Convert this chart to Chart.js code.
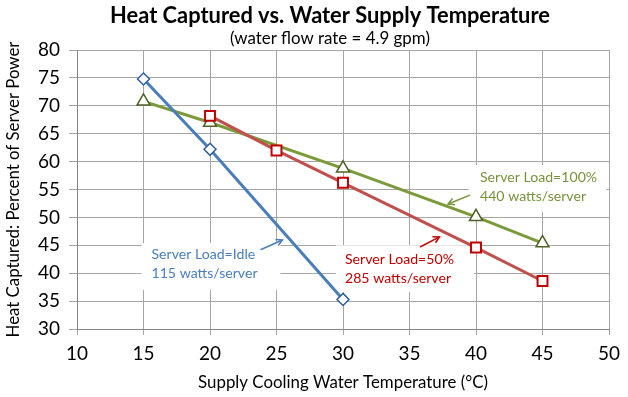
<!DOCTYPE html>
<html><head><meta charset="utf-8">
<script src="https://cdn.jsdelivr.net/npm/chart.js@4.4.0/dist/chart.umd.min.js"></script>
<style>html,body{margin:0;padding:0;background:#fff}#wrap{width:628px;height:397px}</style>
</head><body><div id="wrap"><canvas id="c" width="628" height="397"></canvas></div>
<script>
const idleX = [15, 20, 30];
const idleY = [74.8, 62.2, 35.3];
const halfX = [20, 25, 30, 40, 45];
const halfY = [68.2, 62.0, 56.2, 44.6, 38.6];
const fullX = [15, 20, 30, 40, 45];
const fullY = [70.8, 67.0, 58.8, 50.1, 45.4];
const xTicks = [10, 15, 20, 25, 30, 35, 40, 45, 50];
const yTicks = [30, 35, 40, 45, 50, 55, 60, 65, 70, 75, 80];
const titleText = 'Heat Captured vs. Water Supply Temperature';
const subtitleText = '(water flow rate = 4.9 gpm)';
const xTitleText = 'Supply Cooling Water Temperature (°C)';
const yTitleText = 'Heat Captured: Percent of Server Power';

const FONT = 'Lato, "Open Sans", sans-serif';
const pts = (xs, ys) => xs.map((x, i) => ({x, y: ys[i]}));

// fit font sizes to the widths measured in the reference
const mctx = document.createElement('canvas').getContext('2d');
function fit(text, weight, target) {
  mctx.font = weight + ' 100px ' + FONT;
  return 100 * target / mctx.measureText(text).width;
}
const titleSize = fit(titleText, 'bold', 440);
const subSize = fit(subtitleText, 'normal', 200);
const xTitleSize = fit(xTitleText, 'normal', 290);
const yTitleSize = fit(yTitleText, 'normal', 296);
const tickSize = Math.min(19, fit('80', 'normal', 22));
const annoSize = fit('Server Load=50%', 'normal', 109);

const annotations = [
  {color:'#4A7EBB', box:[14.85,45.4,25.3,37.0], tx:15.6, ty:[43.3,39.9],
   lines:['Server Load=Idle','115 watts/server'], arrow:[23.8,44.2,25.45,45.95]},
  {color:'#C00000', box:[29.45,45.0,39.85,36.6], tx:30.15, ty:[42.4,39.0],
   lines:['Server Load=50%','285 watts/server'], arrow:[35.8,44.7,37.25,46.5]},
  {color:'#77933C', box:[39.45,59.4,49.8,51.0], tx:40.3, ty:[57.1,53.7],
   lines:['Server Load=100%','440 watts/server'], arrow:[39.55,54.0,37.9,52.4]}
];

const annoPlugin = {
  id: 'anno',
  beforeDatasetsDraw(chart) {
    const {ctx, scales:{x, y}} = chart;
    ctx.save();
    ctx.fillStyle = '#fff';
    annotations.forEach(a => {
      const x0 = x.getPixelForValue(a.box[0]), y0 = y.getPixelForValue(a.box[1]);
      const x1 = x.getPixelForValue(a.box[2]), y1 = y.getPixelForValue(a.box[3]);
      ctx.fillRect(x0, y0, x1 - x0, y1 - y0);
    });
    ctx.restore();
  },
  afterDatasetsDraw(chart) {
    const {ctx, scales:{x, y}} = chart;
    ctx.save();
    annotations.forEach(a => {
      ctx.fillStyle = a.color;
      ctx.font = annoSize + 'px ' + FONT;
      ctx.textAlign = 'left';
      ctx.textBaseline = 'middle';
      a.lines.forEach((t, i) => ctx.fillText(t, x.getPixelForValue(a.tx), y.getPixelForValue(a.ty[i])));
      const ax0 = x.getPixelForValue(a.arrow[0]), ay0 = y.getPixelForValue(a.arrow[1]);
      const ax1 = x.getPixelForValue(a.arrow[2]), ay1 = y.getPixelForValue(a.arrow[3]);
      ctx.strokeStyle = a.color;
      ctx.lineWidth = 1.5;
      ctx.beginPath(); ctx.moveTo(ax0, ay0); ctx.lineTo(ax1, ay1); ctx.stroke();
      const ang = Math.atan2(ay1 - ay0, ax1 - ax0), L = 7, w = 0.5;
      ctx.beginPath();
      ctx.moveTo(ax1 - L*Math.cos(ang - w), ay1 - L*Math.sin(ang - w));
      ctx.lineTo(ax1, ay1);
      ctx.lineTo(ax1 - L*Math.cos(ang + w), ay1 - L*Math.sin(ang + w));
      ctx.stroke();
    });
    // chart title and subtitle
    ctx.fillStyle = '#000';
    ctx.textAlign = 'center';
    ctx.textBaseline = 'middle';
    ctx.font = 'bold ' + titleSize + 'px ' + FONT;
    ctx.fillText(titleText, 330, 16);
    ctx.font = subSize + 'px ' + FONT;
    ctx.fillText(subtitleText, 330, 39);
    ctx.restore();
  }
};

new Chart(document.getElementById('c'), {
  type: 'scatter',
  data: {
    datasets: [
      {label:'Idle', data: pts(idleX, idleY), showLine:true, borderColor:'#4A7EBB', borderWidth:3,
       pointStyle:'rectRot', pointRadius:6, pointBorderColor:'#2F5F9E', pointBackgroundColor:'#fff', pointBorderWidth:1.5},
      {label:'50%', data: pts(halfX, halfY), showLine:true, borderColor:'#C0504D', borderWidth:3,
       pointStyle:'rect', pointRadius:7, pointBorderColor:'#C00000', pointBackgroundColor:'#fff', pointBorderWidth:2},
      {label:'100%', data: pts(fullX, fullY), showLine:true, borderColor:'#7B9B3A', borderWidth:3,
       pointStyle:'triangle', pointRadius:7.5, pointBorderColor:'#4F6228', pointBackgroundColor:'#fff', pointBorderWidth:1.5}
    ]
  },
  options: {
    responsive:false, animation:false,
    layout:{padding:{left:0, right:15, top:50, bottom:0}},
    plugins:{ legend:{display:false}, tooltip:{enabled:false} },
    scales:{
      x:{type:'linear', min:10, max:50,
        afterBuildTicks: s => { s.ticks = xTicks.map(v => ({value:v})); },
        afterFit: s => { s.height = 68; },
        grid:{color:'#A6A6A6', lineWidth:1, tickLength:6, drawTicks:true},
        border:{color:'#868686', width:1},
        ticks:{color:'#000', font:{family:FONT, size:tickSize}, padding:8},
        title:{display:true, text:xTitleText, color:'#000',
          font:{family:FONT, size:xTitleSize}, padding:{top:4, bottom:4}}},
      y:{type:'linear', min:30, max:80,
        afterBuildTicks: s => { s.ticks = yTicks.map(v => ({value:v})); },
        afterFit: s => { s.width = 77; },
        grid:{color:'#A6A6A6', lineWidth:1, tickLength:8, drawTicks:true},
        border:{color:'#868686', width:1},
        ticks:{color:'#000', font:{family:FONT, size:tickSize}, padding:9},
        title:{display:true, text:yTitleText, color:'#000',
          font:{family:FONT, size:yTitleSize}, padding:{top:4, bottom:2}}}
    }
  },
  plugins:[annoPlugin]
});
</script></body></html>
